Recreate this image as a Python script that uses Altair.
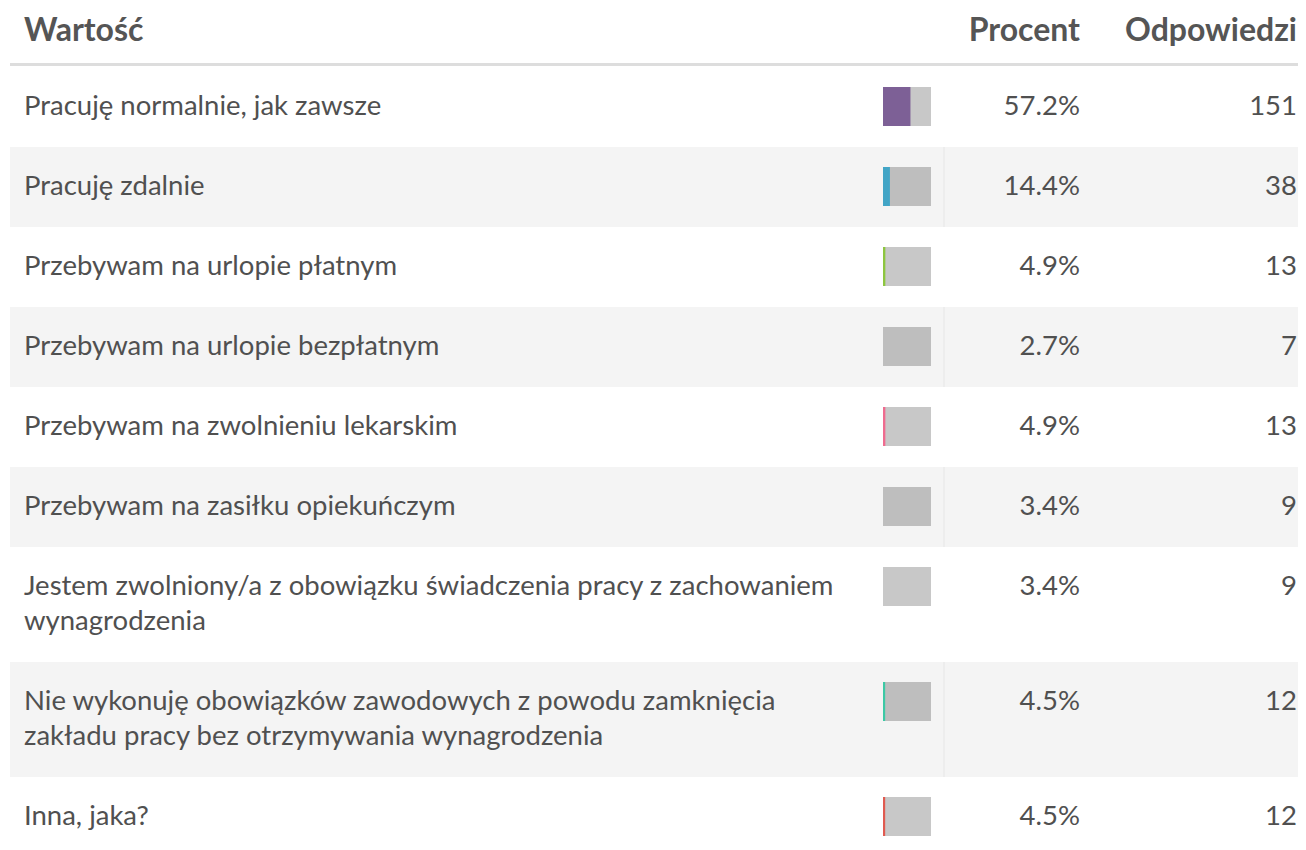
import altair as alt
import pandas as pd

labels = [
    "Pracuję normalnie, jak zawsze",
    "Pracuję zdalnie",
    "Przebywam na urlopie płatnym",
    "Przebywam na urlopie bezpłatnym",
    "Przebywam na zwolnieniu lekarskim",
    "Przebywam na zasiłku opiekuńczym",
    "Jestem zwolniony/a z obowiązku świadczenia pracy z zachowaniem\nwynagrodzenia",
    "Nie wykonuję obowiązków zawodowych z powodu zamknięcia\nzakładu pracy bez otrzymywania wynagrodzenia",
    "Inna, jaka?",
]
percents = [57.2, 14.4, 4.9, 2.7, 4.9, 3.4, 3.4, 4.5, 4.5]
counts = [151, 38, 13, 7, 13, 9, 9, 12, 12]
bar_colors = ["#7d6096", "#42a5c6", "#8dc63f", "#bebebe", "#ef6b8f",
              "#bebebe", "#c8c8c8", "#3cc9a5", "#e05a50"]
headers = ["Wartość", "Procent", "Odpowiedzi"]

W, H = 1290, 834
TOP0 = 59

rows = []
top = TOP0
for i, (lab, p, c, col) in enumerate(zip(labels, percents, counts, bar_colors)):
    n_lines = lab.count("\n") + 1
    h = 45 + 35 * n_lines
    shaded = i % 2 == 1
    rows.append({
        "label": lab, "pct": p, "cnt": str(c), "pct_txt": f"{p:.1f}%",
        "color": col, "top": top, "bottom": top + h, "base": top + 48,
        "bt": top + 20, "bb": top + 59, "shaded": shaded,
        "gray": "#bebebe" if shaded else "#c8c8c8", "zero": 0,
    })
    top += h
df = pd.DataFrame(rows)

ys = alt.Scale(domain=[0, H], range=[0, H])
xs = alt.Scale(domain=[0, 100], range=[875, 923])
FONT = "Lato"
TXT = "#505050"
FS = 27.5

base = alt.Chart(df)

shade = base.transform_filter("datum.shaded").mark_rect(color="#f4f4f4").encode(
    x=alt.value(2), x2=alt.value(W),
    y=alt.Y("top:Q", scale=ys, axis=None), y2="bottom:Q")

sep = base.transform_filter("datum.shaded").mark_rule(color="#e6e6e6", strokeWidth=1).encode(
    x=alt.value(936),
    y=alt.Y("top:Q", scale=ys, axis=None), y2="bottom:Q")

gray_bar = base.mark_rect().encode(
    x=alt.value(875), x2=alt.value(923),
    y=alt.Y("bt:Q", scale=ys, axis=None), y2="bb:Q",
    color=alt.Color("gray:N", scale=None))

col_bar = base.mark_rect().encode(
    x=alt.X("zero:Q", scale=xs, axis=None), x2="pct:Q",
    y=alt.Y("bt:Q", scale=ys, axis=None), y2="bb:Q",
    color=alt.Color("color:N", scale=None))

lab_txt = base.mark_text(align="left", baseline="alphabetic", font=FONT, fontSize=FS,
                         color=TXT, lineBreak="\n", lineHeight=35).encode(
    x=alt.value(16), y=alt.Y("base:Q", scale=ys, axis=None), text="label:N")

pct_txt = base.mark_text(align="right", baseline="alphabetic", font=FONT, fontSize=FS,
                         color=TXT).encode(
    x=alt.value(1072), y=alt.Y("base:Q", scale=ys, axis=None), text="pct_txt:N")

cnt_txt = base.mark_text(align="right", baseline="alphabetic", font=FONT, fontSize=FS,
                         color=TXT).encode(
    x=alt.value(1289), y=alt.Y("base:Q", scale=ys, axis=None), text="cnt:N")

hdr_df = pd.DataFrame({"h": headers})
hdr_common = dict(baseline="alphabetic", font=FONT, fontSize=32, fontWeight="bold",
                  color="#555555")
h1 = alt.Chart(hdr_df).transform_filter(alt.datum.h == headers[0]).mark_text(
    align="left", **hdr_common).encode(x=alt.value(16), y=alt.value(33), text="h:N")
h2 = alt.Chart(hdr_df).transform_filter(alt.datum.h == headers[1]).mark_text(
    align="right", **hdr_common).encode(x=alt.value(1072), y=alt.value(33), text="h:N")
h3 = alt.Chart(hdr_df).transform_filter(alt.datum.h == headers[2]).mark_text(
    align="right", **hdr_common).encode(x=alt.value(1289), y=alt.value(33), text="h:N")

hline = alt.Chart(hdr_df).transform_filter(alt.datum.h == headers[0]).mark_rule(
    color="#dddddd", strokeWidth=3).encode(
    x=alt.value(2), x2=alt.value(W), y=alt.value(56.5))

chart = alt.layer(shade, sep, gray_bar, col_bar, lab_txt, pct_txt, cnt_txt,
                  h1, h2, h3, hline).properties(
    width=W, height=H, padding=0, autosize=alt.AutoSizeParams(type="none"),
    background="#ffffff",
).configure_view(stroke=None)

chart.save("out.html", embed_options={"renderer": "svg", "actions": False})
